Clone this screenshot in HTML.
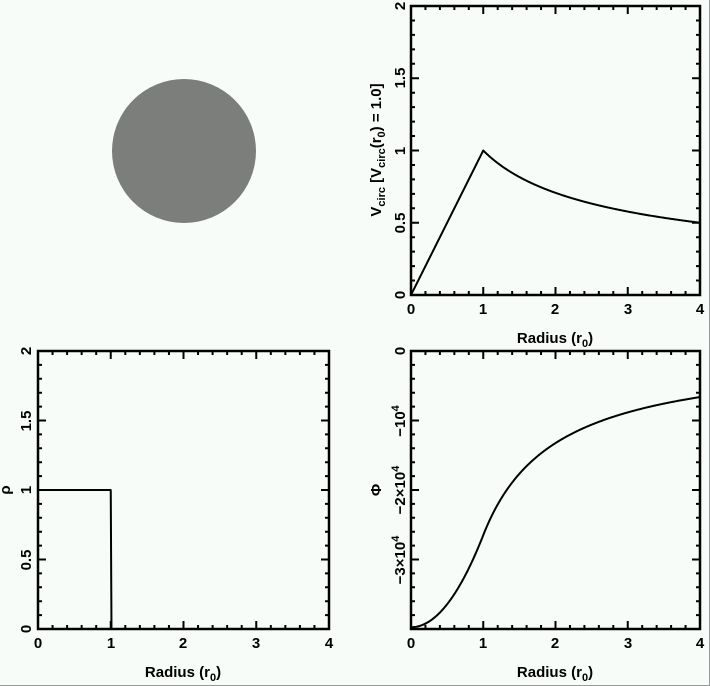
<!DOCTYPE html>
<html><head><meta charset="utf-8"><style>
html,body{margin:0;padding:0;background:#f8fcf8;}
svg{display:block;}
text{font-family:"Liberation Sans",sans-serif;font-weight:bold;font-size:15px;fill:#000;}
</style></head><body>
<svg id="s" width="710" height="686" viewBox="0 0 710 686" xmlns="http://www.w3.org/2000/svg">
<rect x="0" y="0" width="710" height="686" fill="#f8fcf8"/>
<line x1="709.5" y1="0" x2="709.5" y2="686" stroke="#9a9a9a"/>
<line x1="0" y1="685.5" x2="710" y2="685.5" stroke="#9a9a9a"/>
<circle cx="184" cy="151" r="72" fill="#7b7e7b"/>
<g id="plots" fill="none" stroke="#000"></g>

<!-- Plot A labels -->
<g text-anchor="middle">
<text x="411" y="314">0</text><text x="483" y="314">1</text><text x="555" y="314">2</text><text x="628" y="314">3</text><text x="700" y="314">4</text>
<text x="555" y="343">Radius (r<tspan font-size="11" dy="4">0</tspan><tspan dy="-4">)</tspan></text>
<text transform="translate(405,295) rotate(-90)">0</text>
<text transform="translate(405,223) rotate(-90)">0.5</text>
<text transform="translate(405,151) rotate(-90)">1</text>
<text transform="translate(405,78) rotate(-90)">1.5</text>
<text transform="translate(405,6) rotate(-90)">2</text>
<text transform="translate(381,150) rotate(-90)">V<tspan font-size="11" dy="4">circ</tspan><tspan dy="-4"> [V</tspan><tspan font-size="11" dy="4">circ</tspan><tspan dy="-4">(r</tspan><tspan font-size="11" dy="4">0</tspan><tspan dy="-4">) = 1.0]</tspan></text>
</g>

<!-- Plot B labels -->
<g text-anchor="middle">
<text x="38" y="648">0</text><text x="111" y="648">1</text><text x="183" y="648">2</text><text x="256" y="648">3</text><text x="329" y="648">4</text>
<text x="183" y="677">Radius (r<tspan font-size="11" dy="4">0</tspan><tspan dy="-4">)</tspan></text>
<text transform="translate(31,629) rotate(-90)">0</text>
<text transform="translate(31,560) rotate(-90)">0.5</text>
<text transform="translate(31,490) rotate(-90)">1</text>
<text transform="translate(31,421) rotate(-90)">1.5</text>
<text transform="translate(31,351) rotate(-90)">2</text>
<text transform="translate(10,490) rotate(-90)">ρ</text>
</g>

<!-- Plot C labels -->
<g text-anchor="middle">
<text x="411" y="648">0</text><text x="483" y="648">1</text><text x="555" y="648">2</text><text x="628" y="648">3</text><text x="700" y="648">4</text>
<text x="555" y="677">Radius (r<tspan font-size="11" dy="4">0</tspan><tspan dy="-4">)</tspan></text>
<text transform="translate(405,351) rotate(-90)">0</text>
<text transform="translate(405,421) rotate(-90)">−10<tspan font-size="11" dy="-6">4</tspan></text>
<text transform="translate(405,490) rotate(-90)">−2×10<tspan font-size="11" dy="-6">4</tspan></text>
<text transform="translate(405,560) rotate(-90)">−3×10<tspan font-size="11" dy="-6">4</tspan></text>
<text transform="translate(381,490) rotate(-90)">Φ</text>
</g>
</svg>
<script>
(function(){
var g=document.getElementById('plots');var NS='http://www.w3.org/2000/svg';
function el(n,a){var e=document.createElementNS(NS,n);for(var k in a)e.setAttribute(k,a[k]);g.appendChild(e);return e;}
function plot(x0,x1,y0,y1,ymin,ymax,ymaj,ymin_step,f){
 el('rect',{x:x0,y:y0,width:x1-x0,height:y1-y0,'stroke-width':2.5});
 var d='';
 function X(v){return x0+(x1-x0)*v/4;}
 function Y(v){return y1-(y1-y0)*(v-ymin)/(ymax-ymin);}
 for(var i=0;i<=20;i++){var v=i*0.2,L=(i%5==0)?8:4,x=X(v);
  d+='M'+x+' '+y1+'V'+(y1-L)+'M'+x+' '+y0+'V'+(y0+L);}
 var n=Math.round((ymax-ymin)/ymin_step);
 for(var i=0;i<=n;i++){var v=ymin+i*ymin_step;var maj=Math.abs(v/ymaj-Math.round(v/ymaj))<1e-6;var L=maj?8:4,y=Y(v);
  d+='M'+x0+' '+y+'H'+(x0+L)+'M'+x1+' '+y+'H'+(x1-L);}
 el('path',{d:d,'stroke-width':2});
 var p='';
 for(var i=0;i<=400;i++){var r=i*0.01;var v=f(r);p+=(i?'L':'M')+X(r).toFixed(2)+' '+Y(v).toFixed(2);}
 el('path',{d:p,'stroke-width':2,'stroke-linejoin':'round'});
}
plot(411,700,6,295,0,2,0.5,0.1,function(r){return r<=1?r:1/Math.sqrt(r);});
plot(38,329,351,629,0,2,0.5,0.1,function(r){return r<=1?1:0;});
plot(411,700,351,629,-4,0,1,0.2,function(r){var C=2.65;return r<=1?-C*(3-r*r)/2:-C/r;});
})();
</script>
</body></html>
